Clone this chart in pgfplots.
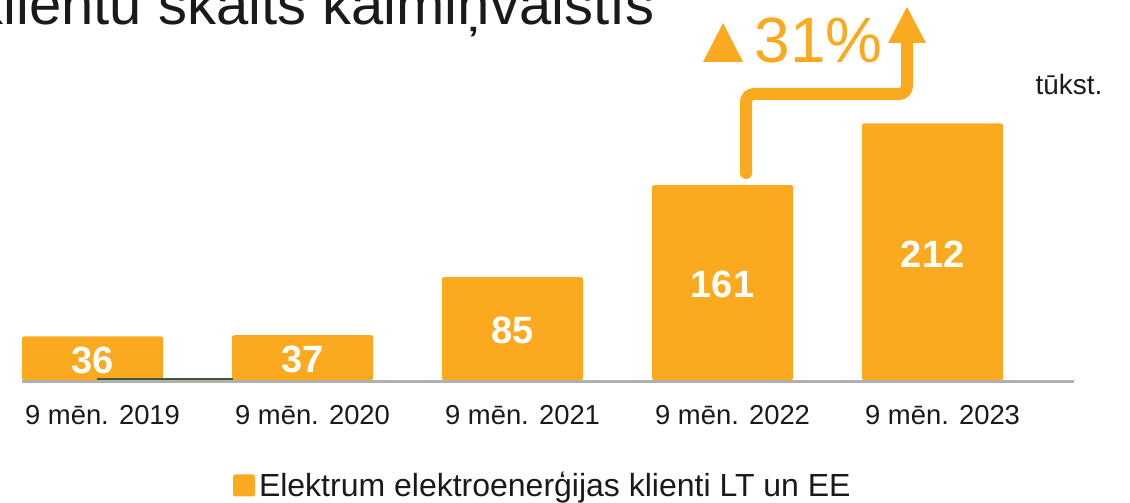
\documentclass[border=0pt]{standalone}
\usepackage{fontspec}
\setmainfont{Liberation Sans}
\usepackage{pgfplots}
\pgfplotsset{compat=1.18}
\definecolor{barorange}{RGB}{251,169,30}
\definecolor{basegray}{RGB}{176,176,176}
\definecolor{txt}{RGB}{26,26,26}
\definecolor{darkline}{RGB}{60,90,60}

\begin{document}
\begin{tikzpicture}
% 1 reference pixel = 0.5pt; picture is 565pt x 251.5pt
\useasboundingbox (0pt,0pt) rectangle (565pt,251.5pt);
\clip (0pt,0pt) rectangle (565pt,251.5pt);
\node[anchor=base east, inner sep=0, text=txt, font=\fontsize{29}{34}\selectfont]
  at (327.5pt,239pt) {klientu skaits kaimiņvalstīs};
\begin{axis}[
  at={(11pt,60.75pt)}, anchor=south west,
  x=105pt, y=0.605pt,
  xmin=-0.336, xmax=4.674, ymin=-1.24, ymax=250,
  ybar, bar width=70.5pt, bar shift=0pt,
  axis x line=bottom, axis y line=none,
  x axis line style={basegray, line width=1.6pt, -},
  xtick={0,1,2,3,4},
  xticklabels={9 mēn. 2019, 9 mēn. 2020, 9 mēn. 2021, 9 mēn. 2022, 9 mēn. 2023},
  xtick style={draw=none},
  major tick length=0pt,
  xticklabel style={anchor=base, yshift=-21.5pt, xshift=5pt, text=txt,
                    font=\fontsize{13.7}{16}\selectfont},
  ytick=\empty,
  clip=false,
  nodes near coords,
  visualization depends on={rawy \as \rawy},
  nodes near coords style={anchor=center, yshift={-0.3025pt*\rawy-1pt}, text=white,
                           font=\fontsize{19}{22}\selectfont\bfseries},
  /pgf/number format/assume math mode=true,
  legend style={at={(0.496,-0.342)}, anchor=center, draw=none, fill=none,
                font=\fontsize{16}{18}\selectfont, text=txt},
]
\addplot[fill=barorange, draw=none, rounded corners=1pt,
  legend image code/.code={\fill[barorange, rounded corners=0.8pt] (-1.5pt,-5.5pt) rectangle (9.5pt,5.5pt);}]
  coordinates {(0,36) (1,37) (2,85) (3,161) (4,212)};
\legend{Elektrum elektroenerģijas klienti LT un EE}
\end{axis}
% thin stray rule on the base line
\draw[darkline, line width=0.6pt] (48.5pt,62pt) -- (116.5pt,62pt);
% growth arrow and label
\draw[barorange, line width=6pt, line cap=round, rounded corners=4pt]
  (373pt,165pt) -- (373pt,204.5pt) -- (453.5pt,204.5pt) -- (453.5pt,231pt);
\fill[barorange] (444pt,230pt) -- (463pt,230pt) -- (453.5pt,248pt) -- cycle;
\fill[barorange] (351.5pt,220.5pt) -- (371.5pt,220.5pt) -- (361.5pt,240pt) -- cycle;
\node[anchor=base, inner sep=0, text=barorange, font=\fontsize{32}{38}\selectfont]
  at (409.25pt,220pt) {31\%};
\node[anchor=base, inner sep=0, text=txt, font=\fontsize{14}{17}\selectfont]
  at (534.5pt,204pt) {tūkst.};
\end{tikzpicture}
\end{document}
